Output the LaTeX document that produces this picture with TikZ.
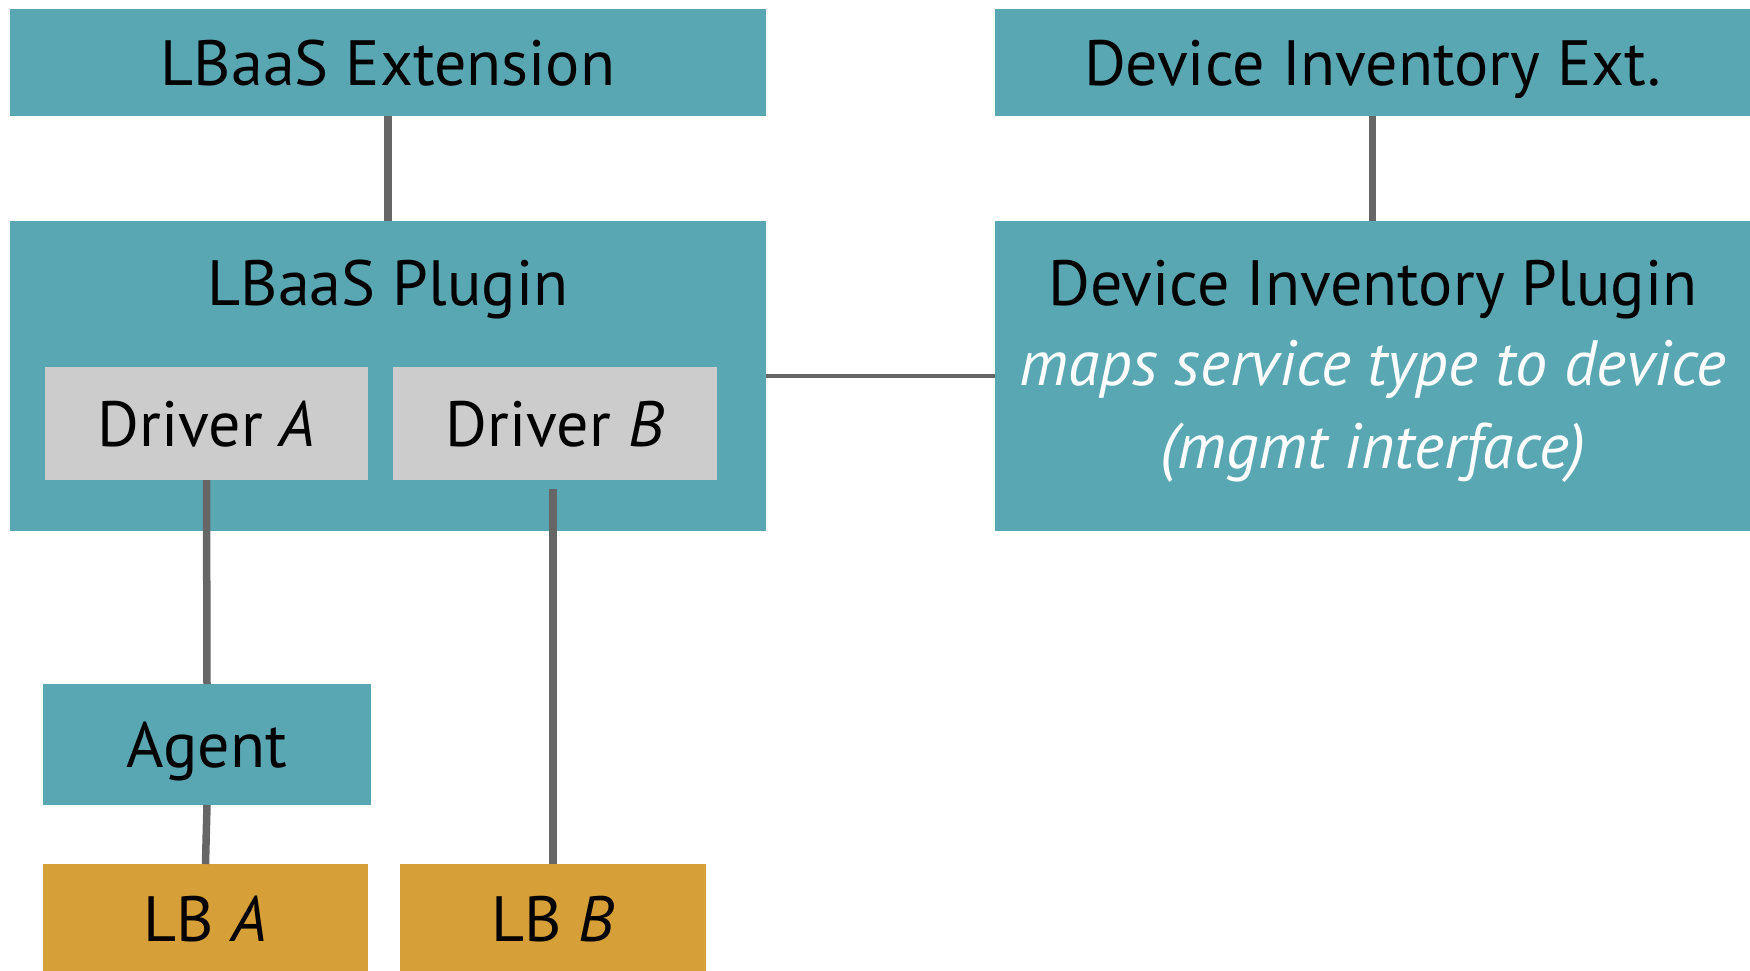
\documentclass[tikz,border=0pt]{standalone}
\usepackage{fontspec}
\setmainfont{PT Sans}
\definecolor{teal}{HTML}{5AA7B4}
\definecolor{drvgray}{HTML}{CCCCCC}
\definecolor{lborange}{HTML}{D79F38}
\definecolor{wire}{HTML}{666666}
\tikzset{
  box/.style={rectangle, inner sep=0pt, outer sep=0pt, anchor=north west,
    font=\fontsize{64}{76}\selectfont, text height=45pt, text depth=0pt},
  tealbox/.style={box, fill=teal},
  drvbox/.style={box, fill=drvgray},
  lbbox/.style={box, fill=lborange},
  title/.style={anchor=base, inner sep=0pt, font=\fontsize{64}{76}\selectfont},
  note/.style={anchor=base, inner sep=0pt, text=white, font=\fontsize{64}{76}\selectfont\itshape},
  thickwire/.style={draw=wire, line width=7.5pt},
  thinwire/.style={draw=wire, line width=4pt},
}
\begin{document}
\begin{tikzpicture}[x=1pt, y=-1pt]
\useasboundingbox (0,0) rectangle (1750,970);

% upper row: extensions
\node[tealbox, minimum width=756pt, minimum height=107pt] (lbext) at (10,9) {LBaaS Extension};
\node[tealbox, minimum width=755pt, minimum height=107pt] (diext) at (995,9) {Device Inventory Ext.};

% plugins
\node[tealbox, minimum width=756pt, minimum height=310pt] (lbp) at (10,221) {};
\node[title] (lbpT) at (388,305) {LBaaS Plugin};
\node[tealbox, minimum width=755pt, minimum height=310pt] (dip) at (995,221) {};
\node[title] (dipT) at (1373,305) {Device Inventory Plugin};
\node[note] (dipN1) at (1373,385) {maps service type to device};
\node[note] (dipN2) at (1373,468) {(mgmt interface)};

% drivers inside the LBaaS plugin
\node[drvbox, minimum width=323pt, minimum height=113pt] (drva) at (45,367) {Driver \textit{A}};
\node[drvbox, minimum width=324pt, minimum height=113pt] (drvb) at (393,367) {Driver \textit{B}};

% agent and load balancers
\node[tealbox, minimum width=328pt, minimum height=121pt] (agent) at (43,684) {Agent};
\node[lbbox, minimum width=325pt, minimum height=110pt] (lba) at (43,864) {LB \textit{A}};
\node[lbbox, minimum width=306pt, minimum height=110pt] (lbb) at (400,864) {LB \textit{B}};

% connectors
\draw[thickwire] (lbext.south) -- (lbp.north);
\draw[thickwire] (diext.south) -- (dip.north);
\draw[thinwire] (lbp.east) -- (dip.west);
\draw[thickwire] (drva.south) -- (agent.north);
\draw[thickwire] (agent.south) -- (lba.north);
\coordinate (drvbTail) at ([yshift=-9pt]drvb.south -| lbb.north);
\draw[thickwire] (drvbTail) -- (lbb.north);
\end{tikzpicture}
\end{document}
